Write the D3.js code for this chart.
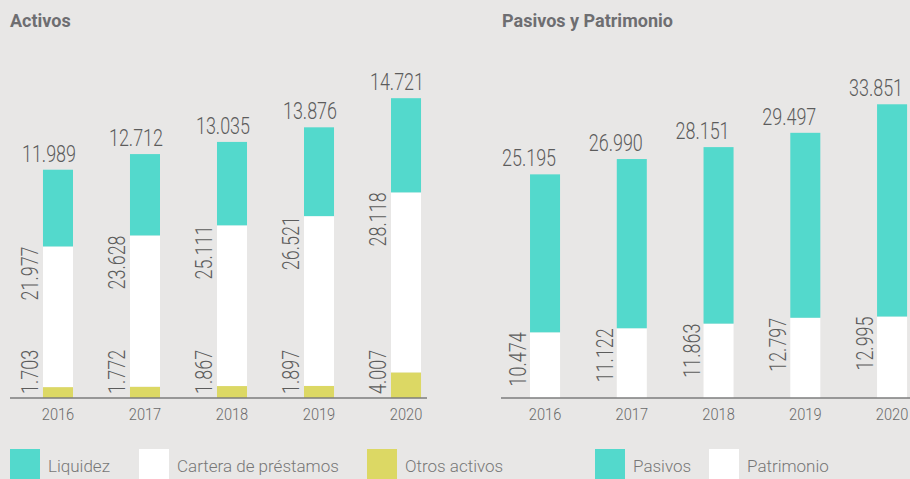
<!DOCTYPE html>
<html>
<head>
<meta charset="utf-8">
<script src="https://cdn.jsdelivr.net/npm/d3@7"></script>
<style>
  html, body { margin: 0; padding: 0; background: #e8e7e6; }
  svg { display: block; }
  text { font-family: Roboto, "Noto Sans", sans-serif; }
</style>
</head>
<body>
<svg id="chart" width="910" height="479"></svg>
<script>
// Years on the x axis
const years = ["2016", "2017", "2018", "2019", "2020"];

// Activos (millions)
const liquidez = [11989, 12712, 13035, 13876, 14721];
const cartera = [21977, 23628, 25111, 26521, 28118];
const otrosActivos = [1703, 1772, 1867, 1897, 4007];

// Pasivos y Patrimonio (millions)
const pasivos = [25195, 26990, 28151, 29497, 33851];
const patrimonio = [10474, 11122, 11863, 12797, 12995];

// Legend entries
const legendLabels = ["Liquidez", "Cartera de préstamos", "Otros activos", "Pasivos", "Patrimonio"];

const C = { teal: "#53d9cc", white: "#ffffff", yellow: "#dcd864", bg: "#e8e7e6" };

const locale = d3.formatLocale({ decimal: ",", thousands: ".", grouping: [3], currency: ["", ""] });
const fmt = locale.format(",d");

const svg = d3.select("#chart");
svg.append("rect").attr("width", 910).attr("height", 479).attr("fill", C.bg);

const BASE = 398;

// Narrow numeric labels: light face squeezed horizontally
function squeeze(sel, k) {
  sel.each(function () {
    const w = this.getComputedTextLength();
    d3.select(this).attr("textLength", w * k).attr("lengthAdjust", "spacingAndGlyphs");
  });
}

function panel(opts) {
  const g = svg.append("g");
  const x = d3.scaleBand().domain(years).range(opts.xRange)
    .paddingInner(opts.pIn).paddingOuter(opts.pOut);
  const y = d3.scaleLinear().domain([0, 50000]).range([BASE, opts.yTop]);

  // title
  g.append("text").attr("x", opts.titleX).attr("y", 27)
    .attr("font-size", 18).attr("font-weight", 700).attr("fill", "#6e6e71")
    .text(opts.title);

  const rows = years.map((yr, i) => {
    const r = { year: yr };
    opts.keys.forEach(k => r[k.name] = k.values[i]);
    return r;
  });
  const stack = d3.stack().keys(opts.keys.map(k => k.name))(rows);

  stack.forEach((layer, li) => {
    g.append("g").selectAll("rect").data(layer).join("rect")
      .attr("x", d => x(d.data.year))
      .attr("width", x.bandwidth())
      .attr("y", d => y(d[1]))
      .attr("height", d => y(d[0]) - y(d[1]))
      .attr("fill", opts.keys[li].color);
  });

  // axis
  const axis = d3.axisBottom(x).tickSize(0).tickPadding(0);
  const ag = g.append("g").attr("transform", `translate(0,${BASE})`).call(axis);
  ag.select(".domain").remove();
  ag.append("line").attr("x1", opts.axisX[0]).attr("x2", opts.axisX[1])
    .attr("stroke", "#7c7c7c").attr("stroke-width", 1.5);
  ag.selectAll(".tick text")
    .attr("y", 22).attr("dy", 0)
    .attr("font-size", 17).attr("font-weight", 300).attr("fill", "#6a6a6a")
    .attr("font-family", "Roboto, sans-serif")
    .call(squeeze, 0.86);

  // top value labels (topmost series)
  const topLayer = stack[stack.length - 1];
  g.append("g").selectAll("text").data(topLayer).join("text")
    .attr("x", d => x(d.data.year) + x.bandwidth() + opts.topDx)
    .attr("y", d => y(d[1]) - 8)
    .attr("text-anchor", "end")
    .attr("font-size", 23).attr("font-weight", 300).attr("fill", "#5c5c5c")
    .text(d => fmt(d[1] - d[0]))
    .call(squeeze, 0.78);

  // rotated labels for lower series
  opts.rotated.forEach(rs => {
    const layer = stack[rs.layer];
    g.append("g").selectAll("text").data(layer).join("text")
      .attr("transform", d => {
        const px = x(d.data.year) - opts.rotDx;
        const py = rs.anchor === "end" ? y(d[1]) : BASE - 4;
        return `translate(${px},${py}) rotate(-90)`;
      })
      .attr("text-anchor", rs.anchor)
      .attr("font-size", 23).attr("font-weight", 300).attr("fill", "#5c5c5c")
      .text(d => fmt(d[1] - d[0]))
      .call(squeeze, 0.78);
  });
}

panel({
  title: "Activos", titleX: 10,
  xRange: [10, 454], pIn: 0.655, pOut: 0.379, yTop: 78,
  axisX: [10, 427], topDx: 3, rotDx: 5,
  keys: [
    { name: "otros", values: otrosActivos, color: C.yellow },
    { name: "cartera", values: cartera, color: C.white },
    { name: "liquidez", values: liquidez, color: C.teal }
  ],
  rotated: [{ layer: 0, anchor: "start" }, { layer: 1, anchor: "end" }]
});

panel({
  title: "Pasivos y Patrimonio", titleX: 502,
  xRange: [500.7, 936.4], pIn: 0.654, pOut: 0.338, yTop: 84.5,
  axisX: [501, 910], topDx: -4, rotDx: 4,
  keys: [
    { name: "patrimonio", values: patrimonio, color: C.white },
    { name: "pasivos", values: pasivos, color: C.teal }
  ],
  rotated: [{ layer: 0, anchor: "end" }]
});

// legend
const legendColors = [C.teal, C.white, C.yellow, C.teal, C.white];
const legendSwatchX = [10, 139, 367, 595, 709];
const lg = svg.append("g");
legendLabels.forEach((lab, i) => {
  lg.append("rect").attr("x", legendSwatchX[i]).attr("y", 449)
    .attr("width", 30).attr("height", 30).attr("fill", legendColors[i]);
  lg.append("text").attr("x", legendSwatchX[i] + 38).attr("y", 472)
    .attr("font-size", 17).attr("font-weight", 300).attr("fill", "#777777")
    .text(lab);
});
</script>
</body>
</html>
